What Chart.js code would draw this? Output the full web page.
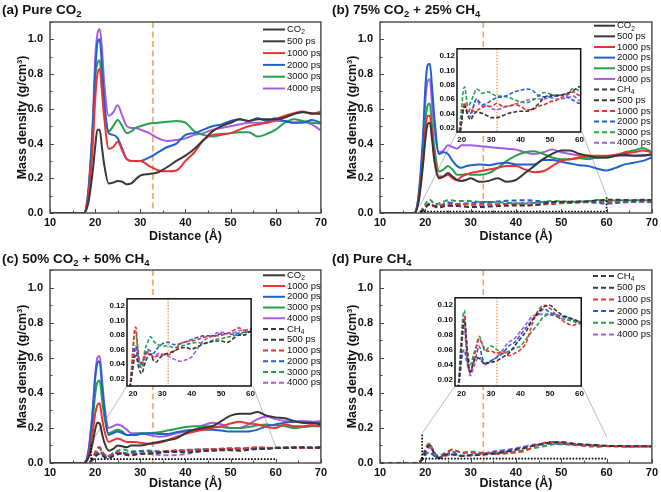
<!DOCTYPE html>
<html>
<head>
<meta charset="utf-8">
<script src="https://cdn.jsdelivr.net/npm/chart.js@4.4.0/dist/chart.umd.min.js"></script>
<style>
  body { margin: 0; background: #fff; }
  #fig { position: relative; width: 661px; height: 492px; overflow: hidden; background: #fff; }
  #fig canvas { position: absolute; }
</style>
</head>
<body>
<div id="fig"></div>
<script>
// distance grids (Å)
const distCO2 = [10, 17.5, 18.5, 19.5, 20, 20.5, 21, 21.5, 22, 23, 24, 25, 26, 27, 28, 29, 30, 32, 34, 36, 38, 40, 42, 44, 46, 48, 50, 52, 54, 56, 58, 60, 62, 64, 66, 68, 70];
const distCH4 = [10, 18, 19, 19.5, 20, 20.5, 21, 21.5, 22, 23, 24, 25, 26, 27, 28, 29, 30, 32, 34, 36, 38, 40, 42, 44, 46, 48, 50, 52, 54, 56, 58, 60, 62, 64, 66, 68, 70];
const timeLabels = ['500 ps', '1000 ps', '2000 ps', '3000 ps', '4000 ps'];
const xTicks = [10, 20, 30, 40, 50, 60, 70];
const yTicks = [0, 0.2, 0.4, 0.6, 0.8, 1.0];

// (a) pure CO2
const a500  = [0, 0, 0.06, 0.25, 0.38, 0.48, 0.48, 0.38, 0.28, 0.17, 0.175, 0.185, 0.18, 0.165, 0.17, 0.195, 0.215, 0.225, 0.235, 0.265, 0.3, 0.33, 0.37, 0.42, 0.47, 0.5, 0.52, 0.54, 0.53, 0.54, 0.54, 0.54, 0.55, 0.57, 0.58, 0.575, 0.57];
const a1000 = [0, 0, 0.1, 0.4, 0.65, 0.8, 0.83, 0.7, 0.55, 0.37, 0.38, 0.41, 0.36, 0.31, 0.3, 0.3, 0.3, 0.27, 0.245, 0.24, 0.245, 0.3, 0.35, 0.42, 0.45, 0.455, 0.46, 0.48, 0.5, 0.51, 0.52, 0.54, 0.56, 0.575, 0.585, 0.57, 0.585];
const a2000 = [0, 0, 0.12, 0.5, 0.8, 0.98, 1.0, 0.85, 0.65, 0.46, 0.45, 0.43, 0.37, 0.31, 0.3, 0.3, 0.3, 0.32, 0.35, 0.38, 0.4, 0.45, 0.46, 0.48, 0.5, 0.51, 0.53, 0.54, 0.53, 0.545, 0.53, 0.545, 0.53, 0.52, 0.52, 0.535, 0.52];
const a3000 = [0, 0, 0.12, 0.5, 0.78, 0.86, 0.88, 0.75, 0.6, 0.47, 0.5, 0.535, 0.5, 0.46, 0.47, 0.49, 0.5, 0.515, 0.52, 0.525, 0.53, 0.52, 0.47, 0.45, 0.44, 0.45, 0.46, 0.465, 0.465, 0.44, 0.455, 0.48, 0.52, 0.54, 0.53, 0.52, 0.515];
const a4000 = [0, 0, 0.14, 0.55, 0.88, 1.03, 1.06, 0.95, 0.75, 0.56, 0.58, 0.62, 0.56, 0.5, 0.49, 0.49, 0.48, 0.46, 0.43, 0.415, 0.42, 0.43, 0.45, 0.46, 0.48, 0.49, 0.5, 0.51, 0.52, 0.52, 0.52, 0.53, 0.53, 0.52, 0.525, 0.51, 0.475];

// (b) 75% CO2 + 25% CH4, CO2 part
const bC500  = [0, 0, 0.06, 0.28, 0.42, 0.51, 0.52, 0.42, 0.3, 0.2, 0.21, 0.23, 0.21, 0.19, 0.185, 0.19, 0.2, 0.18, 0.185, 0.2, 0.18, 0.19, 0.23, 0.27, 0.31, 0.34, 0.36, 0.36, 0.34, 0.33, 0.32, 0.32, 0.33, 0.335, 0.33, 0.33, 0.34];
const bC1000 = [0, 0, 0.07, 0.3, 0.48, 0.56, 0.56, 0.45, 0.33, 0.21, 0.21, 0.22, 0.2, 0.19, 0.21, 0.22, 0.23, 0.24, 0.25, 0.26, 0.27, 0.27, 0.25, 0.235, 0.24, 0.27, 0.3, 0.31, 0.32, 0.33, 0.33, 0.33, 0.335, 0.345, 0.35, 0.36, 0.35];
const bC2000 = [0, 0, 0.1, 0.45, 0.72, 0.85, 0.86, 0.72, 0.55, 0.34, 0.35, 0.34, 0.3, 0.27, 0.26, 0.27, 0.275, 0.28, 0.275, 0.285, 0.29, 0.28, 0.28, 0.28, 0.305, 0.305, 0.295, 0.285, 0.275, 0.27, 0.255, 0.245, 0.26, 0.28, 0.29, 0.3, 0.32];
const bC3000 = [0, 0, 0.08, 0.35, 0.53, 0.62, 0.63, 0.5, 0.38, 0.24, 0.25, 0.27, 0.25, 0.22, 0.22, 0.225, 0.22, 0.22, 0.23, 0.26, 0.3, 0.33, 0.35, 0.355, 0.34, 0.32, 0.31, 0.31, 0.315, 0.31, 0.32, 0.32, 0.33, 0.35, 0.36, 0.375, 0.35];
const bC4000 = [0, 0, 0.09, 0.4, 0.64, 0.76, 0.77, 0.62, 0.48, 0.35, 0.36, 0.39, 0.38, 0.37, 0.39, 0.39, 0.39, 0.385, 0.38, 0.375, 0.37, 0.365, 0.35, 0.34, 0.35, 0.365, 0.35, 0.34, 0.33, 0.32, 0.32, 0.325, 0.33, 0.33, 0.33, 0.335, 0.33];
// (b) CH4 part
const bM500  = [0, 0, 0.005, 0.015, 0.03, 0.045, 0.05, 0.045, 0.038, 0.031, 0.038, 0.042, 0.041, 0.04, 0.038, 0.036, 0.034, 0.034, 0.037, 0.04, 0.042, 0.043, 0.043, 0.046, 0.053, 0.062, 0.065, 0.065, 0.066, 0.068, 0.072, 0.077, 0.076, 0.075, 0.074, 0.076, 0.075];
const bM1000 = [0, 0, 0.005, 0.015, 0.03, 0.048, 0.055, 0.048, 0.04, 0.047, 0.043, 0.044, 0.046, 0.048, 0.05, 0.05, 0.05, 0.054, 0.05, 0.05, 0.052, 0.05, 0.045, 0.045, 0.05, 0.052, 0.056, 0.058, 0.062, 0.066, 0.07, 0.065, 0.068, 0.07, 0.07, 0.072, 0.07];
const bM2000 = [0, 0, 0.005, 0.015, 0.03, 0.045, 0.05, 0.045, 0.04, 0.04, 0.05, 0.06, 0.056, 0.052, 0.053, 0.055, 0.058, 0.062, 0.063, 0.066, 0.07, 0.072, 0.074, 0.072, 0.065, 0.063, 0.063, 0.064, 0.065, 0.062, 0.058, 0.054, 0.058, 0.062, 0.065, 0.066, 0.065];
const bM3000 = [0, 0, 0.01, 0.03, 0.05, 0.07, 0.077, 0.065, 0.05, 0.055, 0.065, 0.074, 0.072, 0.068, 0.069, 0.07, 0.068, 0.064, 0.064, 0.062, 0.059, 0.056, 0.055, 0.058, 0.064, 0.069, 0.067, 0.065, 0.066, 0.068, 0.075, 0.072, 0.072, 0.073, 0.072, 0.074, 0.072];
const bM4000 = [0, 0, 0.005, 0.015, 0.03, 0.045, 0.05, 0.045, 0.04, 0.035, 0.05, 0.06, 0.052, 0.05, 0.052, 0.05, 0.047, 0.045, 0.048, 0.05, 0.053, 0.055, 0.058, 0.06, 0.06, 0.06, 0.062, 0.06, 0.06, 0.062, 0.064, 0.058, 0.06, 0.062, 0.063, 0.063, 0.062];

// (c) 50% CO2 + 50% CH4, CO2 part
const cC500  = [0, 0, 0.03, 0.12, 0.19, 0.23, 0.225, 0.17, 0.12, 0.07, 0.08, 0.1, 0.095, 0.09, 0.1, 0.1, 0.1, 0.11, 0.12, 0.13, 0.14, 0.17, 0.19, 0.2, 0.21, 0.24, 0.27, 0.28, 0.28, 0.29, 0.27, 0.26, 0.255, 0.24, 0.23, 0.23, 0.22];
const cC1000 = [0, 0, 0.04, 0.18, 0.28, 0.33, 0.34, 0.26, 0.19, 0.12, 0.13, 0.14, 0.13, 0.12, 0.12, 0.12, 0.115, 0.11, 0.115, 0.13, 0.15, 0.165, 0.18, 0.19, 0.2, 0.21, 0.225, 0.235, 0.225, 0.22, 0.205, 0.2, 0.22, 0.21, 0.21, 0.215, 0.21];
const cC2000 = [0, 0, 0.06, 0.3, 0.48, 0.57, 0.58, 0.45, 0.32, 0.16, 0.17, 0.18, 0.17, 0.16, 0.16, 0.16, 0.165, 0.17, 0.165, 0.165, 0.175, 0.185, 0.19, 0.19, 0.19, 0.185, 0.18, 0.18, 0.18, 0.19, 0.21, 0.22, 0.23, 0.235, 0.23, 0.225, 0.23];
const cC3000 = [0, 0, 0.05, 0.25, 0.39, 0.46, 0.47, 0.37, 0.27, 0.17, 0.18, 0.19, 0.18, 0.16, 0.16, 0.165, 0.17, 0.17, 0.175, 0.185, 0.195, 0.205, 0.21, 0.21, 0.21, 0.205, 0.2, 0.2, 0.205, 0.215, 0.22, 0.215, 0.21, 0.2, 0.205, 0.21, 0.21];
const cC4000 = [0, 0, 0.07, 0.32, 0.5, 0.6, 0.61, 0.48, 0.34, 0.2, 0.21, 0.22, 0.21, 0.19, 0.17, 0.17, 0.17, 0.16, 0.15, 0.155, 0.17, 0.18, 0.19, 0.215, 0.23, 0.22, 0.2, 0.2, 0.22, 0.25, 0.265, 0.25, 0.24, 0.235, 0.24, 0.235, 0.24];
// (c) CH4 part
const cM500  = [0, 0, 0.008, 0.02, 0.035, 0.048, 0.052, 0.045, 0.035, 0.027, 0.04, 0.05, 0.054, 0.045, 0.043, 0.048, 0.052, 0.055, 0.058, 0.062, 0.063, 0.061, 0.064, 0.068, 0.07, 0.072, 0.072, 0.07, 0.075, 0.08, 0.08, 0.085, 0.085, 0.087, 0.088, 0.087, 0.088];
const cM1000 = [0, 0, 0.01, 0.03, 0.06, 0.085, 0.091, 0.07, 0.05, 0.042, 0.05, 0.057, 0.055, 0.05, 0.051, 0.052, 0.053, 0.053, 0.058, 0.068, 0.071, 0.072, 0.074, 0.077, 0.078, 0.079, 0.08, 0.082, 0.086, 0.09, 0.086, 0.085, 0.087, 0.088, 0.087, 0.086, 0.088];
const cM2000 = [0, 0, 0.008, 0.025, 0.045, 0.06, 0.065, 0.055, 0.045, 0.04, 0.052, 0.06, 0.058, 0.055, 0.06, 0.065, 0.068, 0.07, 0.067, 0.068, 0.071, 0.074, 0.077, 0.079, 0.079, 0.079, 0.082, 0.082, 0.081, 0.083, 0.084, 0.085, 0.087, 0.088, 0.088, 0.087, 0.088];
const cM3000 = [0, 0, 0.01, 0.03, 0.055, 0.08, 0.085, 0.065, 0.045, 0.035, 0.058, 0.07, 0.078, 0.072, 0.068, 0.066, 0.065, 0.065, 0.063, 0.064, 0.067, 0.069, 0.07, 0.068, 0.071, 0.074, 0.075, 0.077, 0.079, 0.081, 0.083, 0.087, 0.088, 0.089, 0.09, 0.089, 0.09];
const cM4000 = [0, 0, 0.008, 0.022, 0.04, 0.055, 0.06, 0.05, 0.042, 0.035, 0.048, 0.055, 0.053, 0.05, 0.053, 0.055, 0.054, 0.051, 0.047, 0.044, 0.046, 0.05, 0.062, 0.072, 0.077, 0.082, 0.084, 0.083, 0.083, 0.086, 0.087, 0.088, 0.089, 0.09, 0.09, 0.089, 0.09];

// (d) pure CH4
const d500  = [0, 0, 0.01, 0.035, 0.065, 0.09, 0.1, 0.08, 0.055, 0.03, 0.042, 0.05, 0.048, 0.044, 0.04, 0.042, 0.043, 0.045, 0.05, 0.055, 0.065, 0.075, 0.085, 0.1, 0.11, 0.118, 0.12, 0.113, 0.107, 0.104, 0.101, 0.098, 0.097, 0.096, 0.095, 0.096, 0.095];
const d1000 = [0, 0, 0.012, 0.04, 0.07, 0.095, 0.105, 0.08, 0.05, 0.028, 0.045, 0.062, 0.075, 0.068, 0.06, 0.058, 0.058, 0.055, 0.058, 0.052, 0.055, 0.06, 0.07, 0.095, 0.113, 0.12, 0.116, 0.107, 0.1, 0.095, 0.093, 0.097, 0.096, 0.095, 0.096, 0.095, 0.096];
const d2000 = [0, 0, 0.01, 0.025, 0.045, 0.058, 0.06, 0.05, 0.04, 0.03, 0.042, 0.052, 0.065, 0.05, 0.042, 0.043, 0.045, 0.05, 0.055, 0.065, 0.07, 0.08, 0.09, 0.1, 0.108, 0.115, 0.11, 0.107, 0.105, 0.103, 0.1, 0.098, 0.097, 0.096, 0.096, 0.095, 0.095];
const d3000 = [0, 0, 0.015, 0.045, 0.08, 0.105, 0.113, 0.085, 0.06, 0.04, 0.052, 0.065, 0.078, 0.068, 0.058, 0.062, 0.065, 0.06, 0.055, 0.058, 0.062, 0.065, 0.075, 0.085, 0.095, 0.105, 0.107, 0.105, 0.102, 0.1, 0.098, 0.095, 0.094, 0.093, 0.093, 0.094, 0.093];
const d4000 = [0, 0, 0.008, 0.03, 0.06, 0.082, 0.09, 0.065, 0.045, 0.025, 0.035, 0.045, 0.05, 0.045, 0.04, 0.042, 0.045, 0.05, 0.06, 0.07, 0.075, 0.085, 0.095, 0.105, 0.107, 0.108, 0.108, 0.107, 0.105, 0.102, 0.1, 0.097, 0.097, 0.096, 0.096, 0.096, 0.096];

// styling
const FONT = '"Liberation Sans", Arial, sans-serif';
const COLORS = ['#383838', '#ee3232', '#1f62cc', '#25a04e', '#a65ce6'];
const ORANGE = '#f6a45c';
const CUT_X = 32.8;      // vertical marker, main plots
const CUT_X_INSET = 32;  // vertical marker, insets

function pts(xs, ys) { return xs.map((x, i) => ({ x: x, y: ys[i] })); }

function solidSet(ys, i) {
  return { data: pts(distCO2, ys), borderColor: COLORS[i], borderWidth: 2, fill: false,
           pointRadius: 0, cubicInterpolationMode: 'monotone' };
}
function dashSet(ys, i, w, dash) {
  return { data: pts(distCH4, ys), borderColor: COLORS[i], borderWidth: w || 2, borderDash: dash || [5, 3],
           fill: false, pointRadius: 0, cubicInterpolationMode: 'monotone' };
}

function makeCanvas(left, top, w, h) {
  const c = document.createElement('canvas');
  c.width = w; c.height = h;
  c.style.left = left + 'px'; c.style.top = top + 'px';
  c.style.width = w + 'px'; c.style.height = h + 'px';
  document.getElementById('fig').appendChild(c);
  return c;
}

// text with sub/superscripts: parts = [[text, mode]]
function drawRich(ctx, parts, x, y, size, weight) {
  ctx.textBaseline = 'middle';
  ctx.textAlign = 'left';
  parts.forEach(([t, mode]) => {
    const s = mode ? size * 0.7 : size;
    const dy = mode === 'sub' ? size * 0.32 : (mode === 'sup' ? -size * 0.35 : 0);
    ctx.font = weight + ' ' + s + 'px ' + FONT;
    ctx.fillText(t, x, y + dy);
    x += ctx.measureText(t).width;
  });
}

const CO2 = [['CO'], ['2', 'sub']];
const CH4 = [['CH'], ['4', 'sub']];
function legendRows(parts, colorIdx, dashed) {
  return { parts: parts, color: COLORS[colorIdx], dash: dashed ? [5, 3] : [] };
}
function timeRows(dashed, skip) {
  return timeLabels.map((t, i) => (skip === i ? null : legendRows([[t]], i, dashed))).filter(Boolean);
}

function mainChart(cfg) {
  const canvas = makeCanvas(cfg.left, cfg.top, cfg.w, cfg.h);
  const deco = {
    id: 'deco',
    beforeDatasetsDraw(chart) {
      const ctx = chart.ctx, a = chart.chartArea;
      const xs = chart.scales.x, ys = chart.scales.y;
      ctx.save();
      // orange marker
      ctx.strokeStyle = ORANGE; ctx.lineWidth = 1.6; ctx.setLineDash([6, 3.5]);
      const px = xs.getPixelForValue(CUT_X);
      ctx.beginPath(); ctx.moveTo(px, a.top); ctx.lineTo(px, a.bottom); ctx.stroke();
      // connectors to inset
      if (cfg.links) {
        ctx.setLineDash([]); ctx.strokeStyle = '#b4b4b4'; ctx.lineWidth = 0.9;
        cfg.links.forEach(l => {
          ctx.beginPath();
          ctx.moveTo(l[0] - cfg.left, l[1] - cfg.top);
          ctx.lineTo(xs.getPixelForValue(l[2]), ys.getPixelForValue(l[3]));
          ctx.stroke();
        });
      }
      ctx.restore();
    },
    afterDatasetsDraw(chart) {
      const ctx = chart.ctx, a = chart.chartArea;
      const xs = chart.scales.x, ys = chart.scales.y;
      ctx.save();
      // dotted zoom region
      if (cfg.box) {
        ctx.strokeStyle = '#000'; ctx.lineWidth = 1.6; ctx.setLineDash([1.6, 1.6]);
        cfg.box.forEach(s => {
          ctx.beginPath();
          ctx.moveTo(xs.getPixelForValue(s[0]), ys.getPixelForValue(s[1]));
          ctx.lineTo(xs.getPixelForValue(s[2]), ys.getPixelForValue(s[3]));
          ctx.stroke();
        });
      }
      ctx.setLineDash([]);
      // inward ticks
      ctx.strokeStyle = '#444'; ctx.lineWidth = 1;
      for (let v = 10; v <= 70; v += 5) {
        const p = Math.round(xs.getPixelForValue(v)) + 0.5;
        const len = v % 10 === 0 ? 4 : 2.5;
        ctx.beginPath(); ctx.moveTo(p, a.bottom); ctx.lineTo(p, a.bottom - len); ctx.stroke();
      }
      for (let k = 0; k <= 11; k++) {
        const p = Math.round(ys.getPixelForValue(k / 10)) + 0.5;
        const len = k % 2 === 0 ? 4 : 2.5;
        ctx.beginPath(); ctx.moveTo(a.left, p); ctx.lineTo(a.left + len, p); ctx.stroke();
      }
      // frame
      ctx.strokeStyle = '#474747'; ctx.lineWidth = 1.4;
      ctx.strokeRect(a.left, a.top, a.right - a.left, a.bottom - a.top);
      ctx.restore();
    },
    afterDraw(chart) {
      const ctx = chart.ctx;
      ctx.save();
      ctx.fillStyle = '#111';
      drawRich(ctx, cfg.title, 2, cfg.titleY, 13.5, 'bold');
      const L = cfg.legend;
      L.rows.forEach((r, i) => {
        const y = L.y0 + i * L.step;
        ctx.strokeStyle = r.color; ctx.lineWidth = 2; ctx.setLineDash(r.dash);
        ctx.beginPath(); ctx.moveTo(L.x0, y); ctx.lineTo(L.x1, y); ctx.stroke();
        ctx.fillStyle = '#111';
        drawRich(ctx, r.parts, L.x1 + 2, y, 9.5, 'normal');
      });
      ctx.restore();
    }
  };
  return new Chart(canvas, {
    type: 'line',
    data: { datasets: cfg.datasets },
    options: {
      responsive: false, animation: false, events: [],
      layout: { padding: { top: cfg.padTop, right: cfg.padRight, left: 0, bottom: 0 } },
      plugins: { legend: { display: false }, tooltip: { enabled: false } },
      scales: {
        x: {
          type: 'linear', min: 10, max: 70,
          afterFit: s => { s.height = cfg.xH; },
          afterBuildTicks: s => { s.ticks = xTicks.map(v => ({ value: v })); },
          grid: { display: false, drawTicks: false },
          border: { display: false },
          ticks: { padding: 3, color: '#111', font: { family: FONT, size: 11, weight: 'bold' }, maxRotation: 0 },
          title: { display: true, text: 'Distance (Å)', color: '#111', padding: { top: 0, bottom: cfg.xTitlePad },
                   font: { family: FONT, size: 12.5, weight: 'bold', lineHeight: 1.2 } }
        },
        y: {
          type: 'linear', min: 0, max: 1.1,
          afterFit: s => { s.width = 50; },
          afterBuildTicks: s => { s.ticks = yTicks.map(v => ({ value: v })); },
          grid: { display: false, drawTicks: false },
          border: { display: false },
          ticks: { padding: 7, color: '#111', callback: v => v.toFixed(1),
                   font: { family: FONT, size: 11, weight: 'bold' } },
          title: { display: true, text: 'Mass density (g/cm³)', color: '#111', padding: { top: 15, bottom: 0 },
                   font: { family: FONT, size: 12.5, weight: 'bold', lineHeight: 1.2 } }
        }
      }
    },
    plugins: [deco]
  });
}

function insetChart(cfg) {
  const yW = 28, xH = 14, pT = 5, pR = 5;
  const w = cfg.x1 - cfg.x0 + yW + pR, h = cfg.y1 - cfg.y0 + pT + xH;
  const canvas = makeCanvas(cfg.x0 - yW, cfg.y0 - pT, w, h);
  const deco = {
    id: 'insetDeco',
    beforeDatasetsDraw(chart) {
      const ctx = chart.ctx, a = chart.chartArea;
      ctx.save();
      ctx.fillStyle = '#fff';
      ctx.fillRect(a.left, a.top, a.right - a.left, a.bottom - a.top);
      ctx.strokeStyle = ORANGE; ctx.lineWidth = 1.5; ctx.setLineDash([1.5, 1.5]);
      const px = chart.scales.x.getPixelForValue(CUT_X_INSET);
      ctx.beginPath(); ctx.moveTo(px, a.top); ctx.lineTo(px, a.bottom); ctx.stroke();
      ctx.restore();
    },
    afterDatasetsDraw(chart) {
      const ctx = chart.ctx, a = chart.chartArea;
      ctx.save();
      ctx.strokeStyle = '#111'; ctx.lineWidth = 1.5;
      ctx.strokeRect(a.left, a.top, a.right - a.left, a.bottom - a.top);
      ctx.restore();
    }
  };
  return new Chart(canvas, {
    type: 'line',
    data: { datasets: cfg.datasets },
    options: {
      responsive: false, animation: false, events: [],
      layout: { padding: { top: pT, right: pR, left: 0, bottom: 0 } },
      plugins: { legend: { display: false }, tooltip: { enabled: false } },
      scales: {
        x: {
          type: 'linear', min: cfg.xmin, max: cfg.xmax,
          afterFit: s => { s.height = xH; },
          afterBuildTicks: s => { s.ticks = [20, 30, 40, 50, 60].map(v => ({ value: v })); },
          grid: { display: false, drawTicks: false }, border: { display: false },
          ticks: { padding: 3, color: '#111', maxRotation: 0, font: { family: FONT, size: 8, weight: 'bold' } }
        },
        y: {
          type: 'linear', min: cfg.ymin, max: cfg.ymax,
          afterFit: s => { s.width = yW; },
          afterBuildTicks: s => { s.ticks = [0.02, 0.04, 0.06, 0.08, 0.10, 0.12].map(v => ({ value: v })); },
          grid: { display: false, drawTicks: false }, border: { display: false },
          ticks: { padding: 2, color: '#111', callback: v => v.toFixed(2),
                   font: { family: FONT, size: 8, weight: 'bold' } }
        }
      }
    },
    plugins: [deco]
  });
}

// ---- panel (a)
mainChart({
  left: 0, top: 0, w: 330, h: 246, padTop: 22, padRight: 5, xH: 33, xTitlePad: 1.5, titleY: 10,
  title: [['(a) Pure CO'], ['2', 'sub']],
  datasets: [a500, a1000, a2000, a3000, a4000].map(solidSet),
  legend: { x0: 263, x1: 285, y0: 29.5, step: 11.8,
            rows: [legendRows(CO2, 0, false)].concat(timeRows(false)) }
});

// ---- panel (b)
const bIn = { x0: 457, y0: 47, x1: 582, y1: 132 };
mainChart({
  left: 330, top: 0, w: 331, h: 246, padTop: 22, padRight: 6, xH: 33, xTitlePad: 1.5, titleY: 10,
  title: [['(b) 75% CO'], ['2', 'sub'], [' + 25% CH'], ['4', 'sub']],
  datasets: [bC500, bC1000, bC2000, bC3000, bC4000].map(solidSet)
    .concat([bM500, bM1000, bM2000, bM3000, bM4000].map((d, i) => dashSet(d, i))),
  box: [[19, 0.008, 60, 0.008], [60, 0.008, 60, 0.1]],
  links: [[bIn.x0, bIn.y1, 18.8, 0.04], [bIn.x1, bIn.y1, 60, 0.1]],
  legend: { x0: 264, x1: 285, y0: 25.7, step: 10.65,
            rows: [legendRows(CO2, 0, false)].concat(timeRows(false), [legendRows(CH4, 0, true)], timeRows(true)) }
});
insetChart(Object.assign({}, bIn, {
  xmin: 18.4, xmax: 60.4, ymin: 0.014, ymax: 0.13,
  datasets: [bM500, bM1000, bM2000, bM3000, bM4000].map((d, i) => dashSet(d, i, 1.6, [4, 2]))
}));

// ---- panel (c)
const cIn = { x0: 127, y0: 297, x1: 253, y1: 386 };
mainChart({
  left: 0, top: 246, w: 330, h: 246, padTop: 24, padRight: 5, xH: 29, xTitlePad: 0.5, titleY: 13.5,
  title: [['(c) 50% CO'], ['2', 'sub'], [' + 50% CH'], ['4', 'sub']],
  datasets: [cC500, cC1000, cC2000, cC3000, cC4000].map(solidSet)
    .concat([cM500, cM1000, cM2000, cM3000, cM4000].map((d, i) => dashSet(d, i))),
  box: [[19.1, 0.022, 19.1, 0.115], [19.1, 0.022, 60, 0.022]],
  links: [[cIn.x0, cIn.y1, 19.1, 0.115], [cIn.x1, cIn.y1, 60, 0.093]],
  legend: { x0: 263, x1: 285, y0: 29.3, step: 10.74,
            rows: [legendRows(CO2, 0, false)].concat(timeRows(false, 0), [legendRows(CH4, 0, true)], timeRows(true)) }
});
insetChart(Object.assign({}, cIn, {
  xmin: 18, xmax: 60.2, ymin: 0.01, ymax: 0.13,
  datasets: [cM500, cM1000, cM2000, cM3000, cM4000].map((d, i) => dashSet(d, i, 1.6, [4, 2]))
}));

// ---- panel (d)
const dIn = { x0: 455, y0: 296, x1: 582, y1: 386 };
mainChart({
  left: 330, top: 246, w: 331, h: 246, padTop: 24, padRight: 6, xH: 29, xTitlePad: 0.5, titleY: 13.5,
  title: [['(d) Pure CH'], ['4', 'sub']],
  datasets: [d500, d1000, d2000, d3000, d4000].map((d, i) => dashSet(d, i)),
  box: [[19.3, 0.025, 19.3, 0.17], [19.3, 0.025, 60, 0.025]],
  links: [[dIn.x0, dIn.y1, 19.3, 0.17], [dIn.x1, dIn.y1, 60, 0.15]],
  legend: { x0: 263, x1: 285, y0: 30, step: 11.7,
            rows: [legendRows(CH4, 0, true)].concat(timeRows(true)) }
});
insetChart(Object.assign({}, dIn, {
  xmin: 17.8, xmax: 60.6, ymin: 0.011, ymax: 0.13,
  datasets: [d500, d1000, d2000, d3000, d4000].map((d, i) => dashSet(d, i, 1.6, [4, 2]))
}));
</script>
</body>
</html>
